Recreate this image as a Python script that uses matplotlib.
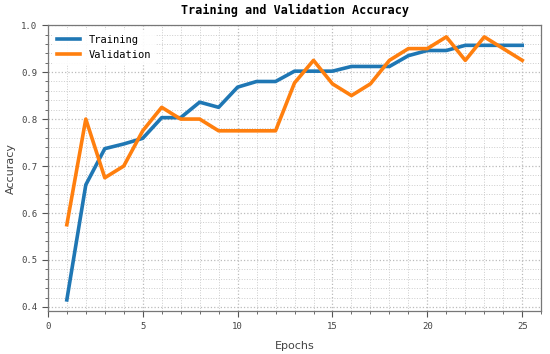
import matplotlib.pyplot as plt
from matplotlib.ticker import MultipleLocator

epochs = list(range(1, 26))
train_acc = [0.415, 0.66, 0.737, 0.747, 0.759, 0.803, 0.803, 0.836, 0.825, 0.868,
             0.880, 0.880, 0.902, 0.902, 0.902, 0.912, 0.912, 0.912, 0.935, 0.946,
             0.946, 0.957, 0.957, 0.957, 0.957]
val_acc = [0.575, 0.80, 0.675, 0.70, 0.775, 0.825, 0.80, 0.80, 0.775, 0.775,
           0.775, 0.775, 0.877, 0.925, 0.875, 0.85, 0.875, 0.925, 0.95, 0.95,
           0.975, 0.925, 0.975, 0.95, 0.925]

mono = "DejaVu Sans Mono"

fig, ax = plt.subplots(figsize=(5.5, 3.54), dpi=100)
fig.subplots_adjust(left=0.087, right=0.984, top=0.929, bottom=0.121)

ax.plot(epochs, train_acc, color="#1f77b4", lw=2.6, label="Training")
ax.plot(epochs, val_acc, color="#ff7f0e", lw=2.6, label="Validation")

ax.set_xlim(0, 26)
ax.set_ylim(0.391, 1.0)
ax.xaxis.set_major_locator(MultipleLocator(5))
ax.xaxis.set_minor_locator(MultipleLocator(1))
ax.yaxis.set_major_locator(MultipleLocator(0.1))
ax.yaxis.set_minor_locator(MultipleLocator(0.02))

ax.grid(which="major", color="#bbbbbb", linestyle=":", linewidth=0.9)
ax.grid(which="minor", color="#cccccc", linestyle=":", linewidth=0.7)
ax.set_axisbelow(True)

ax.tick_params(which="major", length=4, width=0.8, colors="#555555", labelsize=6.5)
ax.tick_params(which="minor", length=2, width=0.6, colors="#555555")
for lab in ax.get_xticklabels() + ax.get_yticklabels():
    lab.set_fontfamily(mono)
    lab.set_color("#444444")
for s in ax.spines.values():
    s.set_color("#777777")
    s.set_linewidth(0.9)

ax.set_title("Training and Validation Accuracy", fontfamily=mono,
             fontweight="bold", fontsize=8.5, pad=8)
ax.set_xlabel("Epochs", fontsize=8, color="#444444", fontweight="medium")
ax.set_ylabel("Accuracy", fontsize=8, color="#444444", fontweight="medium")
ax.xaxis.set_label_coords(0.5, -0.105)
ax.yaxis.set_label_coords(-0.065, 0.5)

leg = ax.legend(loc="upper left", prop={"family": mono, "size": 7.5},
                frameon=True, framealpha=0.9, edgecolor="white",
                handlelength=2.2, borderaxespad=0.5)

fig.savefig("out.png", dpi=100)
